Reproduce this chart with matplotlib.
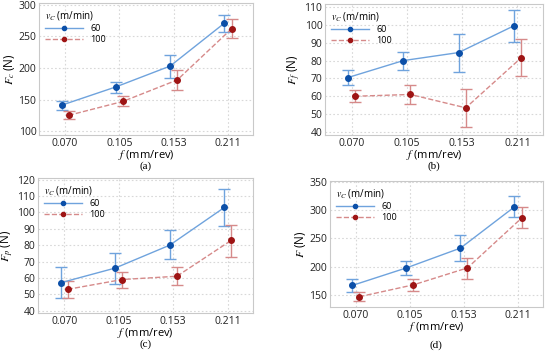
import numpy as np
import matplotlib
matplotlib.use("Agg")
import matplotlib.pyplot as plt

plt.rcParams['font.family'] = ['Open Sans', 'DejaVu Sans']
plt.rcParams['mathtext.fontset'] = 'stix'

# -----------------------------
# data
# -----------------------------
feeds = ["0.070", "0.105", "0.153", "0.211"]
speeds = ["60", "100"]

# (a) Fc
fc_60 = [141, 170, 203, 271]
fc_60_lo = [134, 161, 184, 257]
fc_60_hi = [148, 178, 221, 283]
fc_100 = [125, 147, 181, 262]
fc_100_lo = [119, 139, 165, 247]
fc_100_hi = [132, 155, 196, 277]

# (b) Ff
ff_60 = [70.5, 80, 84.5, 99.5]
ff_60_lo = [66.5, 75, 73.5, 90.5]
ff_60_hi = [74.5, 85, 95, 108.5]
ff_100 = [60, 61, 53.5, 81.5]
ff_100_lo = [57, 55.5, 43, 71.5]
ff_100_hi = [63.5, 66.5, 64, 92]

# (c) Fp
fp_60 = [57, 66, 80, 103]
fp_60_lo = [47.5, 56.5, 71.5, 91.5]
fp_60_hi = [66.5, 75, 89, 114]
fp_100 = [53, 59, 61, 83]
fp_100_lo = [47.5, 54, 55.5, 73]
fp_100_hi = [58, 63.5, 66.5, 92.5]

# (d) F
f_60 = [167, 198, 233, 306]
f_60_lo = [156, 185, 210, 288]
f_60_hi = [178, 211, 256, 325]
f_100 = [147, 168, 198, 286]
f_100_lo = [139, 157, 179, 268]
f_100_hi = [156, 179, 216, 305]

blue_line = "#6fa3dd"
blue_dot = "#0b4fa8"
red_line = "#d68a8a"
red_dot = "#9e1414"

panels = [
    dict(pos=[0.071, 0.621, 0.389, 0.371], ylabel=r"$F_c$ (N)", tag="(a)", tag_y=0.532,
         ylim=(94, 303), yticks=[100, 150, 200, 250, 300],
         s60=(fc_60, fc_60_lo, fc_60_hi), s100=(fc_100, fc_100_lo, fc_100_hi)),
    dict(pos=[0.591, 0.621, 0.396, 0.368], ylabel=r"$F_f$ (N)", tag="(b)", tag_y=0.532,
         ylim=(38.3, 111.8), yticks=[40, 50, 60, 70, 80, 90, 100, 110],
         s60=(ff_60, ff_60_lo, ff_60_hi), s100=(ff_100, ff_100_lo, ff_100_hi)),
    dict(pos=[0.069, 0.121, 0.391, 0.379], ylabel=r"$F_p$ (N)", tag="(c)", tag_y=0.032,
         ylim=(38.6, 121), yticks=[40, 50, 60, 70, 80, 90, 100, 110, 120],
         s60=(fp_60, fp_60_lo, fp_60_hi), s100=(fp_100, fp_100_lo, fp_100_hi)),
    dict(pos=[0.600, 0.138, 0.387, 0.354], ylabel=r"$F$ (N)", tag="(d)", tag_y=0.029,
         ylim=(129, 352), yticks=[150, 200, 250, 300, 350],
         s60=(f_60, f_60_lo, f_60_hi), s100=(f_100, f_100_lo, f_100_hi)),
]

fig = plt.figure(figsize=(5.5, 3.56), dpi=100)
x = np.arange(len(feeds))

for p in panels:
    ax = fig.add_axes(p["pos"])
    for key, off, lc, dc, ls, lab in [("s60", -0.065, blue_line, blue_dot, "-", speeds[0]),
                                      ("s100", 0.065, red_line, red_dot, "--", speeds[1])]:
        y, lo, hi = (np.array(v) for v in p[key])
        ax.errorbar(x + off, y, yerr=[y - lo, hi - y], fmt="none", ecolor=lc,
                    elinewidth=1.0, capsize=4, capthick=1.0, zorder=2)
        ax.plot(x + off, y, ls=ls, color=lc, lw=1.0, zorder=3)
        ax.plot(x + off, y, "o", color=dc, ms=4, zorder=4)
        # legend handle
        ax.plot([], [], ls=ls, color=lc, lw=1.0, marker="o", ms=3, mfc=dc, mec=dc, label=lab)
    ax.set_xlim(-0.48, 3.46)
    ax.set_ylim(*p["ylim"])
    ax.set_xticks(x)
    ax.set_xticklabels(feeds)
    ax.set_yticks(p["yticks"])
    ax.tick_params(length=0, labelsize=7.5, pad=2, colors="#222222")
    ax.grid(True, ls=(0, (1.5, 2)), color="#d8d8d8", lw=0.8)
    ax.set_axisbelow(True)
    for s in ax.spines.values():
        s.set_color("#c9c9c9")
        s.set_linewidth(0.8)
    ax.set_ylabel(p["ylabel"], fontsize=8.5, labelpad=1)
    ax.set_xlabel(r"$f$ (mm/rev)", fontsize=8, labelpad=-0.5)
    b = p["pos"]
    fig.text(b[0] + b[2] / 2, p["tag_y"], p["tag"], ha="center", va="center",
             fontsize=8, family="Liberation Serif")
    leg = ax.legend(loc="upper left", title=r"$v_C$ (m/min)", frameon=False,
                    fontsize=6.5, title_fontsize=7, handlelength=4.2,
                    borderaxespad=0.3, labelspacing=0.2, handletextpad=0.8)
    leg._legend_box.align = "left"

fig.savefig("out.png", dpi=100)
